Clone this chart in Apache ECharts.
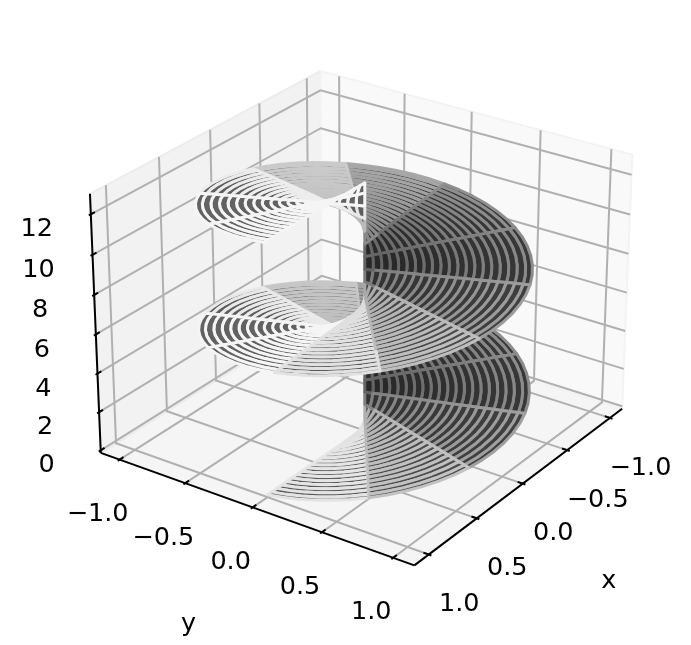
<!DOCTYPE html>
<html><head><meta charset="utf-8">
<style>html,body{margin:0;padding:0;background:#fff}#c{width:691px;height:645px}</style>
<script src="https://cdn.jsdelivr.net/npm/echarts@6/dist/echarts.min.js"></script>
</head><body><div id="c"></div>
<script>
// ---- surface parameters
const ringRadii = [0,0.0505,0.101,0.1515,0.202,0.2525,0.303,0.3535,0.404,0.4545,0.505,0.5556,0.6061,0.6566,0.7071,0.7576,0.8081,0.8586,0.9091,0.9596,1];
const spokeAngles = [0,0.6347,1.2693,1.904,2.5386,3.1733,3.808,4.4426,5.0773,5.7119,6.3466,6.9813,7.6159,8.2506,8.8852,9.5199,10.1546,10.7892,11.4239,12.0585,12.5664];
// ---- axes
const xTicks = [-1,-0.5,0,0.5,1];
const yTicks = [-1,-0.5,0,0.5,1];
const zTicks = [0,2,4,6,8,10,12];
const xLabels = ['\u22121.0','\u22120.5','0.0','0.5','1.0'];
const yLabels = ['\u22121.0','\u22120.5','0.0','0.5','1.0'];
const zLabels = ['0','2','4','6','8','10','12'];
const xLim = [-1.146,1.146], yLim = [-1.146,1.146], zLim = [-0.13,13.0];

// ---- camera
const ELEV = 26.4*Math.PI/180, AZIM = 35*Math.PI/180, DIST = 10;
const BOX = [1.19049,1.19049,0.89287];
const U = [-Math.sin(AZIM),Math.cos(AZIM),0];
const V = [-Math.sin(ELEV)*Math.cos(AZIM),-Math.sin(ELEV)*Math.sin(AZIM),Math.cos(ELEV)];
const W = [Math.cos(ELEV)*Math.cos(AZIM),Math.cos(ELEV)*Math.sin(AZIM),Math.sin(ELEV)];
const K = 3206, X0 = 364.8, Y0 = 304.8, PW = 691, PH = 645;
const dot = (a,b)=>a[0]*b[0]+a[1]*b[1]+a[2]*b[2];
function box(p){return [
  ((p[0]-xLim[0])/(xLim[1]-xLim[0])-0.5)*BOX[0],
  ((p[1]-yLim[0])/(yLim[1]-yLim[0])-0.5)*BOX[1],
  ((p[2]-zLim[0])/(zLim[1]-zLim[0])-0.5)*BOX[2]];}
function depth(p){return DIST-dot(box(p),W);}
function project(p){const b=box(p),d=DIST-dot(b,W);return [dot(b,U)/d,dot(b,V)/d];}

// ---- surface cells, far to near
const L = [-0.6667,-0.6667,0.3333];
const cells = [];
for(let j=0;j<spokeAngles.length-1;j++){
  for(let i=0;i<ringRadii.length-1;i++){
    const r=(ringRadii[i]+ringRadii[i+1])/2,u=(spokeAngles[j]+spokeAngles[j+1])/2;
    cells.push([i,j,depth([r*Math.cos(u),r*Math.sin(u),u])]);
  }
}
cells.sort((a,b)=>b[2]-a[2]);
const FACE=0.40, SHADE_SHIFT=8*Math.PI/180;
function gray(v){const c=Math.round(Math.min(1,v)*255);return 'rgb('+c+','+c+','+c+')';}
function cellPoints(i,j){
  const r0=ringRadii[i],r1=ringRadii[i+1],u0=spokeAngles[j],u1=spokeAngles[j+1],pts=[],n=6;
  for(let k=0;k<=n;k++){const u=u0+(u1-u0)*k/n;pts.push([r0*Math.cos(u),r0*Math.sin(u),u]);}
  for(let k=n;k>=0;k--){const u=u0+(u1-u0)*k/n;pts.push([r1*Math.cos(u),r1*Math.sin(u),u]);}
  return pts;
}
function shadeFactor(i,j){
  const r=(ringRadii[i]+ringRadii[i+1])/2,u=(spokeAngles[j]+spokeAngles[j+1])/2-SHADE_SHIFT;
  const s=(L[0]*Math.sin(u)-L[1]*Math.cos(u)+L[2]*r)/Math.sqrt(1+r*r);
  const f=0.3+0.35*(1+s);
  return Math.min(0.96,0.47+0.95*(f-0.42));
}

// ---- box geometry
const [x0,x1]=xLim,[y0,y1]=yLim,[z0,z1]=zLim;
const panes=[
  {pts:[[x0,y0,z0],[x1,y0,z0],[x1,y1,z0],[x0,y1,z0]],fill:'#f5f5f5',stroke:'#efefef'},
  {pts:[[x1,y0,z0],[x0,y0,z0],[x0,y0,z1],[x1,y0,z1]],fill:'#f2f2f2',stroke:'#ececec'},
  {pts:[[x0,y0,z0],[x0,y1,z0],[x0,y1,z1],[x0,y0,z1]],fill:'#f9f9f9',stroke:'#f3f3f3'}
];
const grids=[];
xTicks.forEach(x=>grids.push([[x,y1,z0],[x,y0,z0],[x,y0,z1]]));
yTicks.forEach(y=>grids.push([[x1,y,z0],[x0,y,z0],[x0,y,z1]]));
zTicks.forEach(z=>grids.push([[x1,y0,z],[x0,y0,z],[x0,y1,z]]));
const TD=(x1-x0)/1.0417/12;
const lines=[[[x1,y1,z0],[x0,y1,z0]],[[x1,y0,z0],[x1,y1,z0]],[[x1,y0,z0],[x1,y0,z1]]];
xTicks.forEach(x=>lines.push([[x,y1+0.1*TD,z0],[x,y1-0.2*TD,z0]]));
yTicks.forEach(y=>lines.push([[x1+0.1*TD,y,z0],[x1-0.2*TD,y,z0]]));
zTicks.forEach(z=>lines.push([[x1+0.1*TD,y0,z],[x1-0.2*TD,y0,z]]));
const texts=[];
xTicks.forEach((x,i)=>texts.push({p:[x,y1,z0],t:xLabels[i],dx:30.5,dy:50}));
yTicks.forEach((y,i)=>texts.push({p:[x1,y,z0],t:yLabels[i],dx:-22,dy:55}));
zTicks.forEach((z,i)=>texts.push({p:[x1,y0,z],t:zLabels[i],dx:-54,dy:15.5}));
texts.push({p:[0,y1,z0],t:'x',dx:86,dy:98});
texts.push({p:[x1,0,z0],t:'y',dx:-64,dy:117});

const pointsOf=(api,pts)=>pts.map(p=>api.coord(project(p)));
const base={type:'custom',coordinateSystem:'cartesian2d',silent:true,animation:false,clip:false,progressive:0,encode:{x:[],y:[]}};
const chart=echarts.init(document.getElementById('c'),null,{renderer:'canvas'});
chart.setOption({
  animation:false,
  backgroundColor:'#fff',
  grid:{left:0,right:0,top:0,bottom:0},
  xAxis:{type:'value',min:-X0/K,max:(PW-X0)/K,show:false},
  yAxis:{type:'value',min:(Y0-PH)/K,max:Y0/K,show:false},
  series:[
    Object.assign({},base,{z:1,data:panes.map((_,i)=>[i]),renderItem(p,api){
      const q=panes[p.dataIndex];
      return {type:'polygon',shape:{points:pointsOf(api,q.pts)},style:{fill:q.fill,stroke:q.stroke,lineWidth:2}};
    }}),
    Object.assign({},base,{z:2,data:grids.map((_,i)=>[i]),renderItem(p,api){
      return {type:'polyline',shape:{points:pointsOf(api,grids[p.dataIndex])},style:{fill:'none',stroke:'#b0b0b0',lineWidth:2}};
    }}),
    Object.assign({},base,{z:3,data:lines.map((_,i)=>[i]),renderItem(p,api){
      return {type:'polyline',shape:{points:pointsOf(api,lines[p.dataIndex])},style:{fill:'none',stroke:'#000',lineWidth:2}};
    }}),
    Object.assign({},base,{z:4,data:cells,renderItem(p,api){
      const c=cells[p.dataIndex],f=shadeFactor(c[0],c[1]);
      return {type:'polygon',shape:{points:pointsOf(api,cellPoints(c[0],c[1]))},
        style:{fill:gray(FACE*f),stroke:gray(f),lineWidth:3,lineJoin:'round'}};
    }}),
    Object.assign({},base,{z:5,data:texts.map((_,i)=>[i]),renderItem(p,api){
      const t=texts[p.dataIndex],c=api.coord(project(t.p));
      return {type:'text',x:c[0]+t.dx,y:c[1]+t.dy,style:{text:t.t,fill:'#000',fontSize:25.5,fontFamily:'DejaVu Sans',textAlign:'center',textVerticalAlign:'middle'}};
    }})
  ]
});
</script></body></html>
